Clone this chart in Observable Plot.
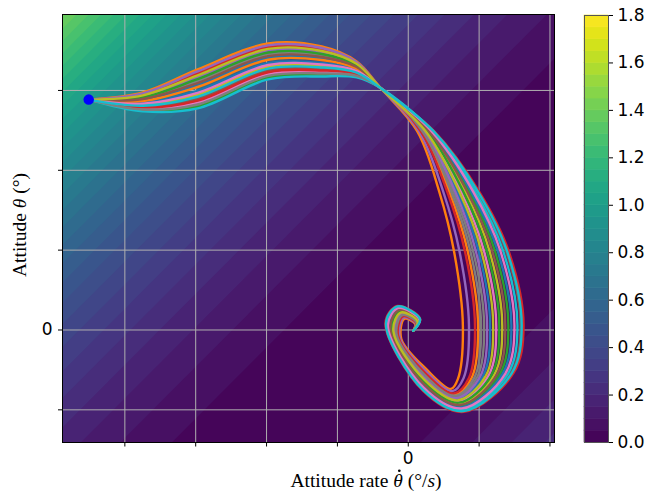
<!DOCTYPE html>
<html>
<head>
<meta charset="utf-8">
<script src="https://cdn.jsdelivr.net/npm/d3@7"></script>
<script src="https://cdn.jsdelivr.net/npm/@observablehq/plot@0.6"></script>
<style>
html, body { margin: 0; padding: 0; background: #fff; }
#fig { position: relative; width: 646px; height: 496px; }
#fig svg { position: absolute; left: 0; top: 0; }
</style>
</head>
<body>
<div id="fig"></div>
<script>
// ---------- axes ----------
const xTicks = [-4, -3, -2, -1, 0, 1, 2];
const xTickLabels = ["", "", "", "", "0", "", ""];
const yTicks = [-1, 0, 1, 2, 3];
const yTickLabels = ["", "0", "", "", ""];
const xDomain = [-4.88, 2.064];
const yDomain = [-1.409, 3.951];

const surfaceGain = 0.0205;
const surfaceSlope = 0.89;
const colorLevels = [0, 0.05, 0.1, 0.15, 0.2, 0.25, 0.3, 0.35, 0.4, 0.45, 0.5, 0.55, 0.6, 0.65,
  0.7, 0.75, 0.8, 0.85, 0.9, 0.95, 1.0, 1.05, 1.1, 1.15, 1.2, 1.25, 1.3, 1.35, 1.4, 1.45,
  1.5, 1.55, 1.6, 1.65, 1.7, 1.75, 1.8];
const colorTicks = [0, 0.2, 0.4, 0.6, 0.8, 1.0, 1.2, 1.4, 1.6, 1.8];

// ---------- trajectories ----------
const start = [-4.51, 2.885];
const run00 = [start, [-3.745, 2.844], [-2.973, 2.994], [-1.978, 3.340], [-1.220, 3.344], [-0.729, 3.253], [-0.39, 3.03], [0.233, 2.49], [0.687, 1.74], [0.992, 0.99], [1.156, 0.05], [1.054, -0.579], [0.685, -0.867], [0.233, -0.611], [-0.199, -0.023], [-0.100, 0.211], [0.130, 0.103], [0.07, -0.01]];
const run01 = [start, [-3.745, 2.975], [-2.973, 3.263], [-1.978, 3.588], [-1.220, 3.550], [-0.729, 3.363], [-0.39, 3.03], [0.126, 2.49], [0.435, 1.74], [0.645, 0.99], [0.771, 0.05], [0.701, -0.613], [0.603, -0.738], [0.252, -0.488], [-0.098, -0.113], [-0.056, 0.138], [0.098, 0.075], [0.07, -0.01]];
const run02 = [start, [-3.745, 2.749], [-2.973, 2.799], [-1.978, 3.160], [-1.220, 3.194], [-0.729, 3.173], [-0.39, 3.03], [0.305, 2.49], [0.856, 1.74], [1.223, 0.99], [1.413, 0.05], [1.290, -0.556], [0.740, -0.953], [0.221, -0.694], [-0.266, 0.038], [-0.130, 0.259], [0.151, 0.122], [0.07, -0.01]];
const run03 = [start, [-3.745, 2.951], [-2.973, 3.214], [-1.978, 3.543], [-1.220, 3.513], [-0.729, 3.343], [-0.39, 3.03], [0.364, 2.49], [0.996, 1.74], [1.416, 0.99], [1.627, 0.05], [1.486, -0.538], [0.785, -1.025], [0.210, -0.763], [-0.322, 0.088], [-0.154, 0.300], [0.168, 0.138], [0.07, -0.01]];
const run04 = [start, [-3.745, 2.928], [-2.973, 3.165], [-1.978, 3.498], [-1.220, 3.475], [-0.729, 3.323], [-0.39, 3.03], [0.150, 2.49], [0.491, 1.74], [0.722, 0.99], [0.857, 0.05], [0.780, -0.605], [0.621, -0.766], [0.248, -0.515], [-0.120, -0.093], [-0.066, 0.154], [0.105, 0.081], [0.07, -0.01]];
const run05 = [start, [-3.745, 2.797], [-2.973, 2.897], [-1.978, 3.250], [-1.220, 3.269], [-0.729, 3.213], [-0.39, 3.03], [0.352, 2.49], [0.968, 1.74], [1.377, 0.99], [1.584, 0.05], [1.447, -0.541], [0.776, -1.011], [0.212, -0.749], [-0.311, 0.078], [-0.149, 0.292], [0.165, 0.134], [0.07, -0.01]];
const run06 = [start, [-3.745, 2.773], [-2.973, 2.848], [-1.978, 3.205], [-1.220, 3.231], [-0.729, 3.193], [-0.39, 3.03], [0.257, 2.49], [0.744, 1.74], [1.069, 0.99], [1.242, 0.05], [1.133, -0.571], [0.703, -0.896], [0.229, -0.639], [-0.221, -0.003], [-0.110, 0.227], [0.137, 0.109], [0.07, -0.01]];
const run07 = [start, [-3.745, 2.904], [-2.973, 3.116], [-1.978, 3.453], [-1.220, 3.438], [-0.729, 3.303], [-0.39, 3.03], [0.209, 2.49], [0.631, 1.74], [0.915, 0.99], [1.071, 0.05], [0.976, -0.586], [0.667, -0.838], [0.237, -0.584], [-0.176, -0.043], [-0.090, 0.194], [0.123, 0.097], [0.07, -0.01]];
const run08 = [start, [-3.745, 2.821], [-2.973, 2.946], [-1.978, 3.295], [-1.220, 3.306], [-0.729, 3.233], [-0.39, 3.03], [0.281, 2.49], [0.800, 1.74], [1.146, 0.99], [1.327, 0.05], [1.211, -0.564], [0.721, -0.924], [0.225, -0.666], [-0.244, 0.018], [-0.120, 0.243], [0.144, 0.116], [0.07, -0.01]];
const run09 = [start, [-3.745, 2.738], [-2.973, 2.775], [-1.978, 3.138], [-1.220, 3.175], [-0.729, 3.163], [-0.39, 3.03], [0.340, 2.49], [0.940, 1.74], [1.339, 0.99], [1.541, 0.05], [1.408, -0.545], [0.767, -0.996], [0.214, -0.735], [-0.300, 0.068], [-0.144, 0.284], [0.161, 0.131], [0.07, -0.01]];
const run10 = [start, [-3.745, 2.880], [-2.973, 3.068], [-1.978, 3.408], [-1.220, 3.400], [-0.729, 3.283], [-0.39, 3.03], [0.316, 2.49], [0.884, 1.74], [1.262, 0.99], [1.456, 0.05], [1.329, -0.553], [0.749, -0.968], [0.218, -0.708], [-0.277, 0.048], [-0.134, 0.268], [0.154, 0.125], [0.07, -0.01]];
const run11 = [start, [-3.745, 2.868], [-2.973, 3.043], [-1.978, 3.385], [-1.220, 3.381], [-0.729, 3.273], [-0.39, 3.03], [0.186, 2.49], [0.575, 1.74], [0.838, 0.99], [0.985, 0.05], [0.897, -0.594], [0.649, -0.809], [0.242, -0.556], [-0.154, -0.063], [-0.081, 0.178], [0.116, 0.091], [0.07, -0.01]];
const run12 = [start, [-3.745, 2.916], [-2.973, 3.141], [-1.978, 3.475], [-1.220, 3.456], [-0.729, 3.313], [-0.39, 3.03], [0.269, 2.49], [0.772, 1.74], [1.108, 0.99], [1.285, 0.05], [1.172, -0.568], [0.712, -0.910], [0.227, -0.653], [-0.232, 0.008], [-0.115, 0.235], [0.140, 0.113], [0.07, -0.01]];
const run13 = [start, [-3.745, 2.785], [-2.973, 2.873], [-1.978, 3.228], [-1.220, 3.250], [-0.729, 3.203], [-0.39, 3.03], [0.174, 2.49], [0.547, 1.74], [0.799, 0.99], [0.942, 0.05], [0.858, -0.598], [0.639, -0.795], [0.244, -0.543], [-0.143, -0.073], [-0.076, 0.170], [0.112, 0.088], [0.07, -0.01]];
const run14 = [start, [-3.745, 2.963], [-2.973, 3.238], [-1.978, 3.565], [-1.220, 3.531], [-0.729, 3.353], [-0.39, 3.03], [0.221, 2.49], [0.659, 1.74], [0.953, 0.99], [1.113, 0.05], [1.015, -0.583], [0.676, -0.853], [0.235, -0.598], [-0.188, -0.033], [-0.095, 0.203], [0.126, 0.100], [0.07, -0.01]];
const run15 = [start, [-3.745, 2.892], [-2.973, 3.092], [-1.978, 3.430], [-1.220, 3.419], [-0.729, 3.293], [-0.39, 3.03], [0.293, 2.49], [0.828, 1.74], [1.185, 0.99], [1.370, 0.05], [1.251, -0.560], [0.730, -0.939], [0.223, -0.680], [-0.255, 0.028], [-0.125, 0.251], [0.147, 0.119], [0.07, -0.01]];
const run16 = [start, [-3.745, 2.833], [-2.973, 2.970], [-1.978, 3.318], [-1.220, 3.325], [-0.729, 3.243], [-0.39, 3.03], [0.328, 2.49], [0.912, 1.74], [1.300, 0.99], [1.499, 0.05], [1.368, -0.549], [0.758, -0.982], [0.216, -0.721], [-0.288, 0.058], [-0.139, 0.276], [0.158, 0.128], [0.07, -0.01]];
const run17 = [start, [-3.745, 2.761], [-2.973, 2.824], [-1.978, 3.183], [-1.220, 3.213], [-0.729, 3.183], [-0.39, 3.03], [0.197, 2.49], [0.603, 1.74], [0.876, 0.99], [1.028, 0.05], [0.937, -0.590], [0.658, -0.824], [0.239, -0.570], [-0.165, -0.053], [-0.085, 0.186], [0.119, 0.094], [0.07, -0.01]];
const run18 = [start, [-3.745, 2.939], [-2.973, 3.189], [-1.978, 3.520], [-1.220, 3.494], [-0.729, 3.333], [-0.39, 3.03], [0.245, 2.49], [0.716, 1.74], [1.031, 0.99], [1.199, 0.05], [1.094, -0.575], [0.694, -0.881], [0.231, -0.625], [-0.210, -0.013], [-0.105, 0.219], [0.133, 0.106], [0.07, -0.01]];
const run19 = [start, [-3.745, 2.809], [-2.973, 2.921], [-1.978, 3.273], [-1.220, 3.288], [-0.729, 3.223], [-0.39, 3.03], [0.357, 2.49], [0.979, 1.74], [1.393, 0.99], [1.601, 0.05], [1.462, -0.540], [0.780, -1.016], [0.211, -0.754], [-0.315, 0.082], [-0.151, 0.295], [0.166, 0.136], [0.07, -0.01]];
const runs = [run00, run01, run02, run03, run04, run05, run06, run07, run08, run09,
  run10, run11, run12, run13, run14, run15, run16, run17, run18, run19];

const tab10 = ["#1f77b4", "#ff7f0e", "#2ca02c", "#d62728", "#9467bd", "#8c564b", "#e377c2", "#7f7f7f", "#bcbd22", "#17becf"];

// ---------- drawing ----------
const half = (colorLevels[1] - colorLevels[0]) / 2;
const colorScale = {type: "linear", scheme: "viridis", domain: [colorLevels[0] - half, colorLevels[colorLevels.length - 1] - half]};

const W = 646, H = 496;
const fig = document.getElementById("fig");

const lineMarks = runs.map((pts, i) => Plot.line(pts, {
  x: d => d[0], y: d => d[1], stroke: tab10[i % 10], strokeWidth: 2.4, curve: "catmull-rom"
}));

const main = Plot.plot({
  width: W, height: H,
  marginLeft: 62, marginRight: 92, marginTop: 14, marginBottom: 54,
  style: {fontFamily: "DejaVu Sans", fontSize: "17px", background: "#fff", color: "#000"},
  x: {domain: xDomain, axis: null},
  y: {domain: yDomain, axis: null},
  color: colorScale,
  marks: [
    Plot.contour({
      fill: (x, y) => surfaceGain * (y - surfaceSlope * x) ** 2,
      x1: xDomain[0], y1: yDomain[0], x2: xDomain[1], y2: yDomain[1],
      thresholds: colorLevels, stroke: "none", pixelSize: 1
    }),
    Plot.gridX(xTicks, {stroke: "#b0b0b0", strokeOpacity: 1, strokeWidth: 1}),
    Plot.gridY(yTicks, {stroke: "#b0b0b0", strokeOpacity: 1, strokeWidth: 1}),
    ...lineMarks,
    Plot.dot([start], {x: d => d[0], y: d => d[1], r: 4.5, fill: "#0000ff", stroke: "#0000ff"}),
    Plot.frame({stroke: "#000", strokeWidth: 1}),
    Plot.axisX(xTicks, {anchor: "bottom", tickFormat: d => xTickLabels[xTicks.indexOf(d)], tickSize: 4.5, tickPadding: 5, label: null, fontSize: 17}),
    Plot.axisY(yTicks, {anchor: "left", tickFormat: d => yTickLabels[yTicks.indexOf(d)], tickSize: 4, tickPadding: 6, label: null, fontSize: 17})
  ]
});
fig.appendChild(main);

// axis titles (mixed roman / italic)
const ms = d3.select(main);
const xBase = 487, labelSize = 19.5;
const xt = ms.append("text")
  .attr("x", 366).attr("y", xBase)
  .attr("text-anchor", "middle")
  .style("font-family", "'Liberation Serif', serif").style("font-size", labelSize + "px").attr("fill", "#000");
xt.append("tspan").text("Attitude rate ");
xt.append("tspan").style("font-style", "italic").text("θ");
xt.append("tspan").text(" (°/");
xt.append("tspan").style("font-style", "italic").text("s");
xt.append("tspan").text(")");
// the time-derivative dot over θ
const thetaIndex = "Attitude rate ".length;
let thetaBox;
try { thetaBox = xt.node().getExtentOfChar(thetaIndex); } catch (e) { thetaBox = {x: 393, width: 9}; }
ms.append("circle")
  .attr("cx", thetaBox.x + thetaBox.width / 2 + 1.2)
  .attr("cy", xBase - 0.70 * labelSize - 2.6)
  .attr("r", 1.35)
  .attr("fill", "#000");

const yt = ms.append("text")
  .attr("transform", "translate(26,225) rotate(-90)")
  .attr("text-anchor", "middle")
  .style("font-family", "'Liberation Serif', serif").style("font-size", labelSize + "px").attr("fill", "#000");
yt.append("tspan").text("Attitude ");
yt.append("tspan").style("font-style", "italic").text("θ");
yt.append("tspan").text(" (°)");

// colour bar
const bands = d3.pairs(colorLevels);
const cbar = Plot.plot({
  width: W, height: H,
  marginLeft: 584, marginRight: 38, marginTop: 15, marginBottom: 54,
  style: {fontFamily: "DejaVu Sans", fontSize: "17px", background: "transparent", color: "#000"},
  x: {domain: [0, 1], axis: null},
  y: {domain: [colorLevels[0], colorLevels[colorLevels.length - 1]], axis: null},
  color: colorScale,
  marks: [
    Plot.rect(bands, {x1: d => 0, x2: d => 1, y1: d => d[0], y2: d => d[1], fill: d => d[0], stroke: d => d[0], strokeWidth: 0.6}),
    Plot.frame({stroke: "#555", strokeWidth: 1}),
    Plot.axisY(colorTicks, {anchor: "right", tickFormat: d3.format(".1f"), tickSize: 4, tickPadding: 5, label: null, fontSize: 17})
  ]
});
fig.appendChild(cbar);
</script>
</body>
</html>
